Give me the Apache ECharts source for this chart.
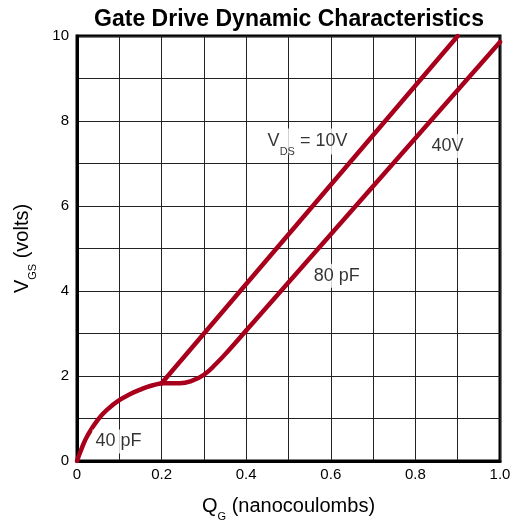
<!DOCTYPE html>
<html><head><meta charset="utf-8">
<script src="https://cdn.jsdelivr.net/npm/echarts@6/dist/echarts.min.js"></script>
<style>html,body{margin:0;padding:0;background:#fff}#c{width:513px;height:520px}</style>
</head><body><div id="c"></div>
<script>
// Common initial charge curve (40 pF region)
const initQ = [0, 0.01, 0.025, 0.05, 0.075, 0.1, 0.125, 0.15, 0.175, 0.2];
const initV = [0, 0.27, 0.6, 0.98, 1.24, 1.43, 1.57, 1.68, 1.77, 1.83];
// VDS = 10V branch
const q10 = [0.2, 0.9];
const v10 = [1.83, 10];
// VDS = 40V branch (curved part, then straight to last point)
const q40 = [0.2, 0.243, 0.27, 0.3, 0.33, 0.36, 0.4, 1.0];
const v40 = [1.83, 1.83, 1.88, 2.03, 2.30, 2.62, 3.07, 9.86];
// Annotations
const noteText = ['{m|V}{s|DS}{m| = 10V}', '40V', '80 pF', '40 pF'];
const noteQ = [0.545, 0.876, 0.614, 0.098];
const noteV = [7.52, 7.41, 4.36, 0.46];
// Tick labels
const xTickValues = [0, 0.2, 0.4, 0.6, 0.8, 1.0];
const xTickLabels = ['0', '0.2', '0.4', '0.6', '0.8', '1.0'];
const yTickValues = [0, 2, 4, 6, 8, 10];
const yTickLabels = ['0', '2', '4', '6', '8', '10'];

const zip = (a, b) => a.map((v, i) => [v, b[i]]);
const FONT = '"Liberation Sans", Arial, sans-serif';
const RED = '#A8001C';
const lineStyle = { color: RED, width: 4.5, cap: 'round', join: 'round' };
const subRich = {
  m: { fontSize: 20, lineHeight: 22, fontFamily: FONT, color: '#000' },
  s: { fontSize: 11, lineHeight: 12, verticalAlign: 'top', padding: [16, 0, 0, 0], fontFamily: FONT, color: '#000' }
};
const pick = (vals, labels) => v => {
  const i = vals.findIndex(t => Math.abs(t - v) < 1e-6);
  return i >= 0 ? labels[i] : '';
};

const chart = echarts.init(document.getElementById('c'));
chart.setOption({
  animation: false,
  backgroundColor: '#fff',
  title: {
    text: 'Gate Drive Dynamic Characteristics',
    left: 289, textAlign: 'center', top: 8, padding: 0,
    textStyle: { fontFamily: FONT, fontWeight: 'bold', fontSize: 23, color: '#000' }
  },
  grid: { left: 77, right: 13, top: 36, bottom: 59, outerBoundsMode: 'none', containLabel: false, show: true, borderColor: '#000', borderWidth: 3, backgroundColor: 'transparent' },
  xAxis: {
    type: 'value', min: 0, max: 1, interval: 0.1,
    name: '{m|Q}{s|G}{m| (nanocoulombs)}', nameLocation: 'middle', nameGap: 34,
    nameTextStyle: { rich: subRich },
    axisLine: { show: true, lineStyle: { color: '#000', width: 3 } },
    axisTick: { show: false },
    axisLabel: { margin: 6, fontSize: 15, fontFamily: FONT, color: '#000', formatter: pick(xTickValues, xTickLabels), showMinLabel: true, showMaxLabel: true },
    splitLine: { show: true, lineStyle: { color: '#222', width: 1 } }
  },
  yAxis: {
    type: 'value', min: 0, max: 10, interval: 1,
    name: '{m|V}{s|GS}{m| (volts)}', nameLocation: 'middle', nameGap: 44,
    nameTextStyle: { rich: subRich },
    axisLine: { show: true, lineStyle: { color: '#000', width: 3 } },
    axisTick: { show: false },
    axisLabel: { margin: 8, fontSize: 15, fontFamily: FONT, color: '#000', formatter: pick(yTickValues, yTickLabels) },
    splitLine: { show: true, lineStyle: { color: '#222', width: 1 } }
  },
  series: [
    { type: 'line', data: zip(initQ, initV), smooth: 0.5, showSymbol: false, lineStyle, silent: true, z: 3 },
    { type: 'line', data: zip(q10, v10), smooth: false, showSymbol: false, lineStyle, silent: true, z: 3 },
    { type: 'line', data: zip(q40, v40).slice(0, -1), smooth: 0.5, showSymbol: false, lineStyle, silent: true, z: 3 },
    { type: 'line', data: zip(q40, v40).slice(-2), smooth: false, showSymbol: false, lineStyle, silent: true, z: 3 },
    {
      type: 'scatter', symbolSize: 1, itemStyle: { color: 'transparent' }, silent: true, z: 5,
      data: noteText.map((t, i) => ({ value: [noteQ[i], noteV[i]], label: { formatter: t } })),
      label: {
        show: true, position: 'inside', fontSize: 18, fontFamily: FONT, color: '#000',
        backgroundColor: '#fff', padding: [3, 3],
        rich: {
          m: { fontSize: 18, lineHeight: 20, fontFamily: FONT, color: '#000' },
          s: { fontSize: 11, lineHeight: 12, verticalAlign: 'top', padding: [15, 0, 0, 0], fontFamily: FONT, color: '#000' }
        }
      }
    }
  ]
});
</script></body></html>
